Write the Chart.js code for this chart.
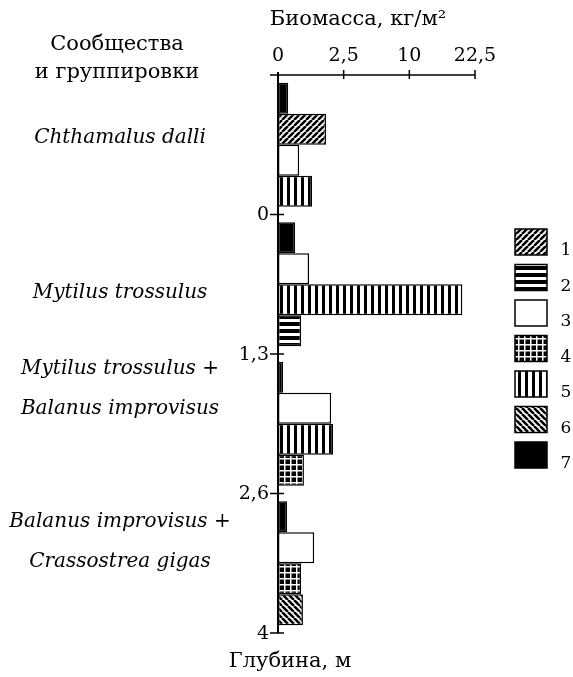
<!DOCTYPE html>
<html>
<head>
<meta charset="utf-8">
<script src="https://cdn.jsdelivr.net/npm/chart.js@4.4.1/dist/chart.umd.min.js"></script>
<style>
  body { margin: 0; background: #fff; }
  #wrap { width: 573px; height: 677px; position: relative; }
</style>
</head>
<body>
<div id="wrap"><canvas id="chart"></canvas></div>
<script>
// Data
const communities = [
  ["Chthamalus dalli"],
  ["Mytilus trossulus"],
  ["Mytilus trossulus +", "Balanus improvisus"],
  ["Balanus improvisus +", "Crassostrea gigas"],
];
// bar types (legend numbers) inside each community, top to bottom
const rowTypes = [
  [7, 1, 3, 5],
  [7, 3, 5, 2],
  [7, 3, 5, 4],
  [7, 3, 4, 6],
];
// biomass, kg/m2
const rowValues = [
  [0.06, 1.34, 0.26, 0.67],
  [0.17, 0.56, 19.7, 0.31],
  [0.015, 1.64, 1.76, 0.39],
  [0.047, 0.76, 0.31, 0.36],
];
const biomassTicks = [0, 2.5, 10, 22.5];
const depthTicks = ["0", "1,3", "2,6", "4"];
const legendTypes = [1, 2, 3, 4, 5, 6, 7];

const SERIF = '"DejaVu Serif", "Liberation Serif", serif';

// square-root axis
class SqrtScale extends Chart.LinearScale {
  static id = "sqrt";
  getPixelForValue(value) {
    if (value === null || value === undefined || isNaN(value)) return NaN;
    const a = Math.sqrt(this.min), b = Math.sqrt(this.max);
    return this.getPixelForDecimal((Math.sqrt(Math.max(value, 0)) - a) / (b - a));
  }
  getValueForPixel(pixel) {
    const a = Math.sqrt(this.min), b = Math.sqrt(this.max);
    const s = a + this.getDecimalForPixel(pixel) * (b - a);
    return s * s;
  }
}
Chart.register(SqrtScale);

// hatch patterns
function makePattern(type) {
  const c = document.createElement("canvas");
  const g = c.getContext("2d");
  let s = 6;
  if (type === 2 || type === 5) s = 7;
  c.width = s; c.height = s;
  g.fillStyle = "#fff";
  g.fillRect(0, 0, s, s);
  g.fillStyle = "#000";
  g.strokeStyle = "#000";
  if (type === 1 || type === 6) {
    g.lineWidth = 2.6;
    g.beginPath();
    for (let k = -1; k <= 1; k++) {
      if (type === 1) { g.moveTo(k * s, s); g.lineTo(k * s + s, 0); }
      else { g.moveTo(k * s, 0); g.lineTo(k * s + s, s); }
    }
    g.stroke();
  } else if (type === 2) {
    g.fillRect(0, 0, s, 4);
  } else if (type === 4) {
    g.fillRect(0, 0, s, s);
    g.fillStyle = "#fff";
    g.fillRect(2, 0, 1.5, s);
    g.fillRect(0, 2, s, 1.5);
  } else if (type === 5) {
    g.fillRect(0, 0, 3, s);
  } else if (type === 7) {
    g.fillRect(0, 0, s, s);
  }
  return g.createPattern(c, "repeat");
}
const patterns = {};
legendTypes.forEach((t) => (patterns[t] = makePattern(t)));

// datasets = bar positions inside a community
const datasets = [0, 1, 2, 3].map((slot) => ({
  label: "slot " + (slot + 1),
  data: rowValues.map((r) => r[slot]),
  backgroundColor: rowTypes.map((r) => patterns[r[slot]]),
  borderColor: "#000",
  borderWidth: 1.5,
  borderSkipped: false,
  categoryPercentage: 0.89,
  barPercentage: 1,
}));

// axes, texts and legend
const decorPlugin = {
  id: "decor",
  afterDatasetsDraw(chart) {
    const ctx = chart.ctx;
    const { left, top, bottom } = chart.chartArea;
    const xs = chart.scales.x, ys = chart.scales.y;
    const half = (ys.getPixelForValue(1) - ys.getPixelForValue(0)) / 2;
    ctx.save();
    ctx.strokeStyle = "#000";
    ctx.fillStyle = "#000";

    // top axis
    ctx.lineWidth = 1.5;
    ctx.beginPath();
    ctx.moveTo(left - 8, top);
    ctx.lineTo(xs.getPixelForValue(biomassTicks[biomassTicks.length - 1]), top);
    biomassTicks.forEach((v, i) => {
      if (i === 0) return;
      const x = xs.getPixelForValue(v);
      ctx.moveTo(x, top - 5);
      ctx.lineTo(x, top + 4);
    });
    ctx.stroke();

    // left axis
    ctx.lineWidth = 2;
    ctx.beginPath();
    ctx.moveTo(left, top - 3);
    ctx.lineTo(left, bottom);
    ctx.stroke();
    ctx.lineWidth = 1.5;
    ctx.beginPath();
    depthTicks.forEach((t, i) => {
      const y = ys.getPixelForValue(i) + half;
      ctx.moveTo(left - 8, y);
      ctx.lineTo(left + 6, y);
    });
    ctx.stroke();

    // tick labels
    ctx.font = "19px " + SERIF;
    ctx.textAlign = "center";
    ctx.textBaseline = "middle";
    biomassTicks.forEach((v) => {
      ctx.fillText(String(v).replace(".", ","), xs.getPixelForValue(v), top - 19);
    });
    ctx.textAlign = "right";
    depthTicks.forEach((t, i) => {
      ctx.fillText(t, left - 9, ys.getPixelForValue(i) + half + 1);
    });

    // titles
    ctx.font = "21px " + SERIF;
    ctx.textAlign = "center";
    ctx.fillText("Биомасса, кг/м²", 358, 20);
    ctx.fillText("Глубина, м", 290, 662);
    ctx.fillText("Сообщества", 117, 45);
    ctx.fillText("и группировки", 117, 73);

    // community names
    const shift = [-7, 9, -35, -21];
    ctx.font = "italic 20px " + SERIF;
    communities.forEach((lines, i) => {
      const c = ys.getPixelForValue(i) + shift[i];
      lines.forEach((ln, j) => {
        const y = c + (j - (lines.length - 1) / 2) * 40;
        ctx.fillText(ln, 120, y);
      });
    });

    // legend
    ctx.font = "17px " + SERIF;
    legendTypes.forEach((t, i) => {
      const y = 229 + i * 35.5;
      ctx.fillStyle = patterns[t];
      ctx.fillRect(515, y, 32, 26);
      ctx.lineWidth = 1.5;
      ctx.strokeRect(515, y, 32, 26);
      ctx.fillStyle = "#000";
      ctx.fillText(String(t), 566, y + 22);
    });
    ctx.restore();
  },
};

new Chart(document.getElementById("chart"), {
  type: "bar",
  data: { labels: communities.map((c) => c.join(" ")), datasets },
  options: {
    indexAxis: "y",
    responsive: true,
    maintainAspectRatio: false,
    animation: false,
    layout: { padding: { left: 278, right: 98, top: 75, bottom: 44 } },
    plugins: { legend: { display: false }, tooltip: { enabled: false } },
    scales: {
      x: { type: "sqrt", min: 0, max: 22.5, display: false },
      y: { type: "category", display: false, offset: true },
    },
  },
  plugins: [decorPlugin],
});
</script>
</body>
</html>
